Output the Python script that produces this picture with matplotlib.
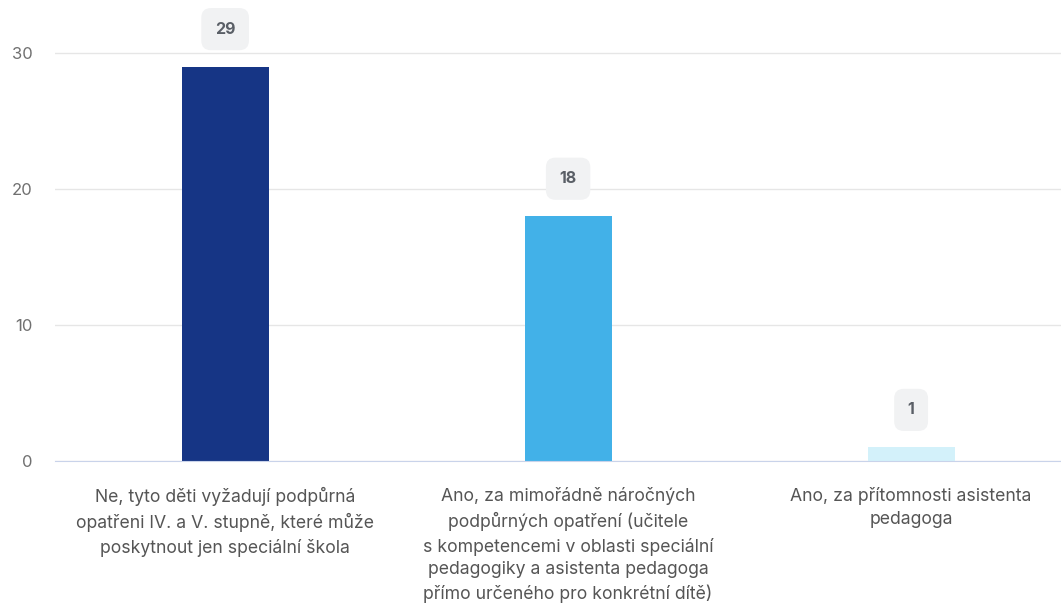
import matplotlib.pyplot as plt

plt.rcParams['font.family'] = ['Inter', 'DejaVu Sans']

# data
categories = [
    "Ne, tyto děti vyžadují podpůrná\nopatřeni IV. a V. stupně, které může\nposkytnout jen speciální škola",
    "Ano, za mimořádně náročných\npodpůrných opatření (učitele\ns kompetencemi v oblasti speciální\npedagogiky a asistenta pedagoga\npřímo určeného pro konkrétní dítě)",
    "Ano, za přítomnosti asistenta\npedagoga",
]
values = [29, 18, 1]
colors = ["#163585", "#42b1e8", "#d3f1fa"]
yticks = [0, 10, 20, 30]

fig = plt.figure(figsize=(10.61, 6.05), dpi=100)
ax = fig.add_axes([55 / 1061, 1 - 461 / 605, 1006 / 1061, 461 / 605])

x = range(len(values))
ax.bar(x, values, width=0.254, color=colors, zorder=3)

for xi, v in zip(x, values):
    ax.annotate(str(v), (xi, v), xytext=(0, 27), textcoords='offset points',
                ha='center', va='center', fontsize=11.5, fontweight='bold', color='#5a5f66',
                bbox=dict(boxstyle='round,pad=0.85,rounding_size=0.6', fc='#f1f2f3', ec='none'),
                zorder=4)

ax.set_xlim(-0.496, 2.437)
ax.set_ylim(0, 33.9)
ax.set_yticks(yticks)
ax.set_xticks(list(x))
ax.set_xticklabels(categories, fontsize=12.7, color='#555555', linespacing=1.45)
ax.tick_params(axis='x', length=0, pad=19)
ax.tick_params(axis='y', length=0, pad=16, labelsize=12, labelcolor='#707070')
for lbl in ax.get_yticklabels():
    lbl.set_horizontalalignment('right')

ax.grid(axis='y', color='#e6e6e6', linewidth=1, zorder=0)
for s in ['top', 'right', 'left']:
    ax.spines[s].set_visible(False)
ax.spines['bottom'].set_color('#c9d3ea')
ax.spines['bottom'].set_zorder(5)

fig.savefig('out.png', dpi=100)
